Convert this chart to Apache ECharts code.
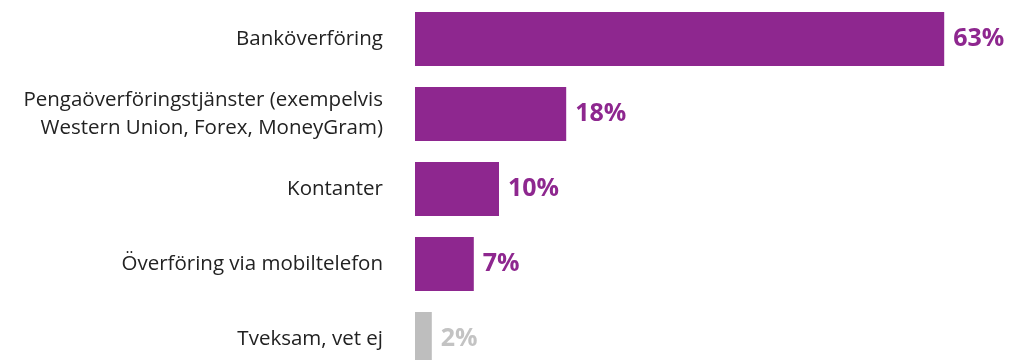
<!DOCTYPE html>
<html>
<head>
<meta charset="utf-8">
<script src="https://cdn.jsdelivr.net/npm/echarts@6/dist/echarts.min.js"></script>
<style>
  html, body { margin: 0; padding: 0; background: #ffffff; }
  #chart { width: 1011px; height: 360px; }
</style>
</head>
<body>
<div id="chart"></div>
<script>
// Hur pengar skickas — andel svarande (%)
const categories = [
  'Banköverföring',
  'Pengaöverföringstjänster (exempelvis\nWestern Union, Forex, MoneyGram)',
  'Kontanter',
  'Överföring via mobiltelefon',
  'Tveksam, vet ej'
];
const values = [63, 18, 10, 7, 2];
const barColors = ['#8e278f', '#8e278f', '#8e278f', '#8e278f', '#bebebe'];
const labelColors = ['#8e278f', '#8e278f', '#8e278f', '#8e278f', '#c3c3c3'];

const chart = echarts.init(document.getElementById('chart'), null, { renderer: 'canvas' });

chart.setOption({
  animation: false,
  backgroundColor: '#ffffff',
  // the last band runs past the bottom edge, so the grid is taller than the canvas
  grid: {
    left: 415, right: 8, top: 1.5, height: 375,
    containLabel: false,
    outerBoundsMode: 'none'
  },
  xAxis: {
    type: 'value',
    min: 0,
    max: 70,
    show: false
  },
  yAxis: {
    type: 'category',
    data: categories,
    inverse: true,
    axisLine: { show: false },
    axisTick: { show: false },
    axisLabel: {
      margin: 32,
      color: '#222222',
      fontFamily: '"Open Sans", "Noto Sans", sans-serif',
      fontSize: 20.5,
      lineHeight: 28,
      align: 'right'
    }
  },
  series: [{
    type: 'bar',
    data: values.map((v, i) => ({
      value: v,
      itemStyle: { color: barColors[i] },
      label: { color: labelColors[i] }
    })),
    barWidth: 54,
    label: {
      show: true,
      position: 'right',
      distance: 9,
      formatter: '{c}%',
      fontFamily: '"Open Sans", "Noto Sans", sans-serif',
      fontWeight: 'bold',
      fontSize: 25
    }
  }]
});
</script>
</body>
</html>
